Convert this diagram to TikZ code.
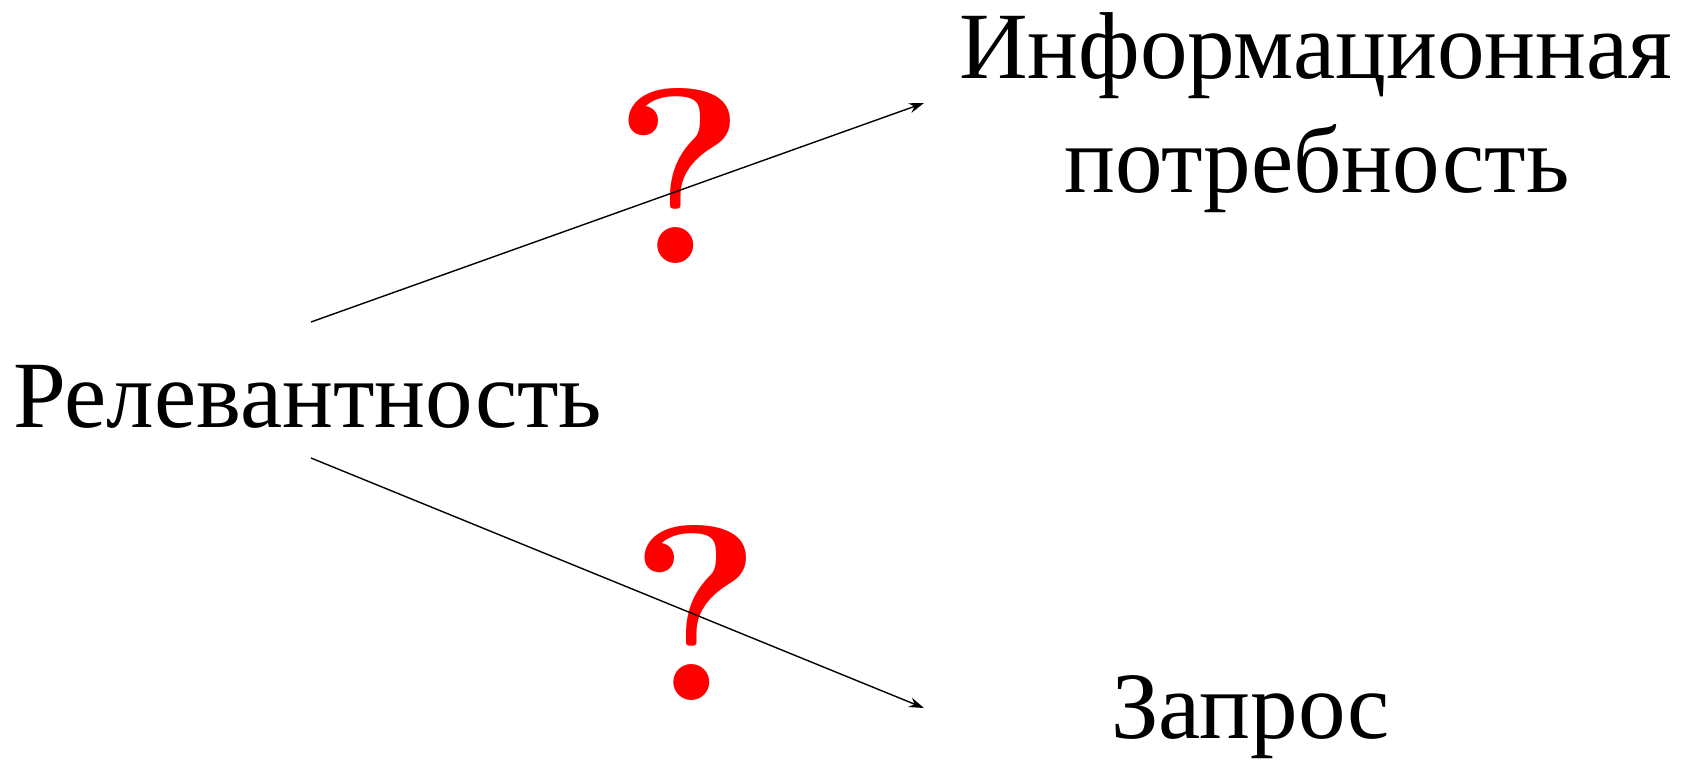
\documentclass[tikz,border=0pt]{standalone}
\usepackage{fontspec}
\setmainfont{Liberation Serif}
\newfontfamily\lmq{Latin Modern Roman}
\usetikzlibrary{arrows.meta}
\definecolor{qred}{RGB}{255,0,0}
\tikzset{
  word/.style={anchor=base west, inner sep=0pt, font=\fontsize{95}{110}\selectfont},
  qmark/.style={anchor=base, inner sep=0pt, text=qred, font=\lmq\bfseries\fontsize{250}{280}\selectfont},
  link/.style={line width=1.4pt, -{Stealth[length=15pt,width=10pt]}}
}
\begin{document}
\begin{tikzpicture}[x=1pt,y=-1pt]
\useasboundingbox (0,0) rectangle (1694,761);
\node[word] (rel) at (13,427) {Релевантность};
\node[word] (inf1) at (959,78) {Информационная};
\node[word] (inf2) at (1064,192) {потребность};
\node[word] (zap) at (1111,738) {Запрос};
\node[qmark] (q1) at (680,263) {?};
\node[qmark] (q2) at (696,700) {?};
\coordinate (s1) at (311,322);
\coordinate (e1) at (924,103);
\coordinate (s2) at (311,458);
\coordinate (e2) at (924,708);
\draw[link] (s1) -- (e1);
\draw[link] (s2) -- (e2);
\end{tikzpicture}
\end{document}
